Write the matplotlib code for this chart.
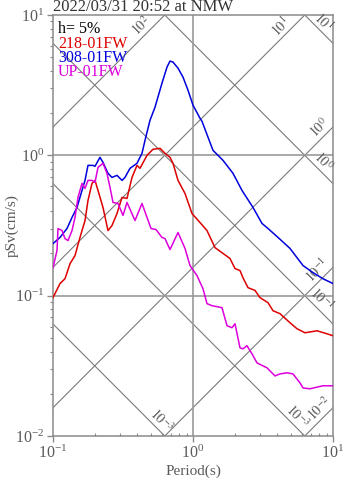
import numpy as np
import matplotlib
matplotlib.use("Agg")
import matplotlib.pyplot as plt
from matplotlib.ticker import LogLocator, NullFormatter

plt.rcParams['font.family'] = ['Liberation Serif', 'DejaVu Serif']
plt.rcParams['mathtext.fontset'] = 'stix'

title = "2022/03/31 20:52 at NMW"
damping = "h= 5%"
names = ["218-01FW", "308-01FW", "UP-01FW"]
colors = ["#dd0000", "#0000dd", "#dd00dd"]

# 218-01FW (red)
period_218 = [0.1, 0.1122, 0.1218, 0.1323, 0.1436, 0.1559, 0.1693, 0.1778, 0.1899, 0.1995,
              0.2096, 0.2276, 0.2471, 0.2639, 0.2865, 0.3111, 0.3377, 0.3667, 0.3981, 0.4182,
              0.4693, 0.5179, 0.5810, 0.6310, 0.6849, 0.7197, 0.7814, 0.8767, 0.9837, 1.122,
              1.259, 1.436, 1.638, 1.838, 1.995, 2.166, 2.276, 2.471, 2.773, 3.010,
              3.434, 3.728, 4.182, 4.931, 5.533, 6.310, 7.686, 9.061, 10.0]
sv_218 = [0.0968, 0.122, 0.132, 0.169, 0.193, 0.260, 0.343, 0.477, 0.631, 0.663,
          0.562, 0.425, 0.291, 0.316, 0.385, 0.501, 0.493, 0.696, 0.848, 0.808,
          1.0, 1.104, 1.122, 1.033, 0.968, 0.877, 0.663, 0.535, 0.385, 0.332,
          0.291, 0.220, 0.200, 0.184, 0.156, 0.151, 0.134, 0.114, 0.109, 0.0968,
          0.0891, 0.0781, 0.0744, 0.0641, 0.0581, 0.0544, 0.0562, 0.0535, 0.0518]

# 308-01FW (blue)
period_308 = [0.1, 0.1122, 0.1259, 0.1367, 0.1484, 0.1611, 0.1693, 0.1778, 0.1931, 0.1995,
              0.2166, 0.2276, 0.2471, 0.2639, 0.2865, 0.3111, 0.3268, 0.3548, 0.3981, 0.4322,
              0.4542, 0.4931, 0.5353, 0.6004, 0.6520, 0.6849, 0.7197, 0.7814, 0.8483, 0.9211,
              1.0, 1.122, 1.159, 1.389, 1.638, 1.931, 2.239, 2.683, 3.111, 3.434,
              4.048, 4.931, 6.105, 7.197, 8.483, 10.0]
sv_308 = [0.235, 0.260, 0.301, 0.361, 0.425, 0.562, 0.663, 0.848, 0.848, 0.835,
          0.968, 0.891, 0.744, 0.696, 0.720, 0.663, 0.696, 0.808, 0.877, 1.033,
          1.280, 1.778, 2.202, 3.268, 4.252, 4.693, 4.617, 4.182, 3.607, 2.913,
          2.276, 1.838, 1.750, 1.086, 0.921, 0.744, 0.562, 0.425, 0.327, 0.301,
          0.260, 0.217, 0.164, 0.146, 0.132, 0.122]

# UP-01FW (magenta)
period_up = [0.1, 0.1068, 0.1086, 0.1160, 0.1218, 0.1280, 0.1367, 0.1436, 0.1508, 0.1611,
             0.1693, 0.1778, 0.1899, 0.1995, 0.2096, 0.2276, 0.2430, 0.2554, 0.2683, 0.2913,
             0.3162, 0.3377, 0.3852, 0.4322, 0.5012, 0.5441, 0.6004, 0.6310, 0.6849, 0.7814,
             0.8767, 0.9519, 1.068, 1.179, 1.259, 1.367, 1.484, 1.611, 1.750, 1.899,
             1.995, 2.166, 2.276, 2.430, 2.639, 2.865, 3.377, 3.852, 4.182, 4.693,
             5.179, 5.810, 6.105, 6.849, 8.483, 10.0]
sv_up = [0.158, 0.210, 0.301, 0.291, 0.255, 0.247, 0.291, 0.361, 0.501, 0.631,
         0.581, 0.663, 0.663, 0.641, 0.821, 0.877, 0.744, 0.591, 0.462, 0.454,
         0.373, 0.462, 0.343, 0.454, 0.301, 0.296, 0.260, 0.255, 0.213, 0.282,
         0.217, 0.164, 0.139, 0.112, 0.0877, 0.0848, 0.0835, 0.0821, 0.0611, 0.0591,
         0.0631, 0.0425, 0.0418, 0.0440, 0.0385, 0.0332, 0.0306, 0.0268, 0.0277, 0.0282,
         0.0277, 0.0239, 0.0220, 0.0217, 0.0228, 0.0228]

# tripartite guide lines: displacement (cm) and acceleration (cm/s^2)
sd_levels = [1e-3, 1e-2, 1e-1, 1.0, 10.0]
sd_labels = [r"$10^{-3}$", r"$10^{-3}$", r"$10^{-1}$", r"$10^{0}$", r"$10^{1}$"]
sd_label_period = [0.539, 5.05, 7.43, 7.74, 7.74]
sa_levels = [1e-2, 1e-1, 1.0, 10.0, 100.0]
sa_labels = [r"$10^{-2}$", r"$10^{-1}$", r"$10^{0}$", r"$10^{1}$", r"$10^{2}$"]
sa_label_period = [8.91, 8.63, 8.91, 4.69, 0.477]

GRAY_TXT = "#5a5a5a"
GRAY_LN = "#7a7a7a"

fig = plt.figure(figsize=(3.47, 4.78), dpi=100)
ax = fig.add_axes([53 / 347, 42 / 478, 280 / 347, 421 / 478])
ax.set_xscale("log")
ax.set_yscale("log")
ax.set_xlim(0.1, 10)
ax.set_ylim(0.01, 10)

tt = np.logspace(-1, 1, 200)
for sd in sd_levels:
    ax.plot(tt, 2 * np.pi * sd / tt, color=GRAY_LN, lw=0.8, zorder=1)
for sa in sa_levels:
    ax.plot(tt, sa * tt / (2 * np.pi), color=GRAY_LN, lw=0.8, zorder=1)

off = 4.5
for sd, lab, tc in zip(sd_levels, sd_labels, sd_label_period):
    ax.annotate(lab, xy=(tc, 2 * np.pi * sd / tc), xytext=(off, off),
                textcoords="offset points", rotation=-45, rotation_mode="anchor",
                ha="center", va="center", fontsize=10, color=GRAY_TXT)
for sa, lab, tc in zip(sa_levels, sa_labels, sa_label_period):
    ax.annotate(lab, xy=(tc, sa * tc / (2 * np.pi)), xytext=(-off, off),
                textcoords="offset points", rotation=45, rotation_mode="anchor",
                ha="center", va="center", fontsize=10, color=GRAY_TXT)

ax.axvline(1.0, color="#9a9a9a", lw=1.2, zorder=1)
ax.axhline(1.0, color="#9a9a9a", lw=1.2, zorder=1)
ax.axhline(0.1, color="#9a9a9a", lw=1.2, zorder=1)

ax.plot(period_218, sv_218, color=colors[0], lw=1.1, zorder=3)
ax.plot(period_308, sv_308, color=colors[1], lw=1.1, zorder=3)
ax.plot(period_up, sv_up, color=colors[2], lw=1.1, zorder=3)

ax.text(5 / 280, 1 - 14 / 421, damping, transform=ax.transAxes, fontsize=11.5,
        color="black", va="center", ha="left")
for i, (nm, c) in enumerate(zip(names, colors)):
    ax.text(5 / 280, 1 - (28.5 + 14.5 * i) / 421, nm, transform=ax.transAxes,
            fontsize=11.5, color=c, va="center", ha="left")

for sp in ax.spines.values():
    sp.set_color("#8a8a8a")
    sp.set_linewidth(1.1)

ax.xaxis.set_major_locator(LogLocator(base=10, numticks=5))
ax.yaxis.set_major_locator(LogLocator(base=10, numticks=6))
ax.xaxis.set_minor_locator(LogLocator(base=10, subs=np.arange(2, 10), numticks=20))
ax.yaxis.set_minor_locator(LogLocator(base=10, subs=np.arange(2, 10), numticks=20))
ax.xaxis.set_minor_formatter(NullFormatter())
ax.yaxis.set_minor_formatter(NullFormatter())
ax.tick_params(which="major", direction="out", length=4.5, width=1, color="#8a8a8a",
               labelcolor=GRAY_TXT, labelsize=11.5, pad=2)
ax.tick_params(axis="y", which="minor", direction="out", length=2.5, width=0.8, color="#8a8a8a")
ax.tick_params(axis="x", which="minor", direction="in", length=2.5, width=0.8, color="#8a8a8a")

fig.text(193 / 347, 1 - 471 / 478, "Period(s)", fontsize=11, color=GRAY_TXT,
         ha="center", va="center")
fig.text(12 / 347, 1 - 226 / 478, "pSv(cm/s)", fontsize=11, color=GRAY_TXT,
         ha="center", va="center", rotation=90)

fig.text(53 / 347, 1 - 11 / 478, title, fontsize=12, color="#333333",
         ha="left", va="baseline")

fig.savefig("out.png", dpi=100)
